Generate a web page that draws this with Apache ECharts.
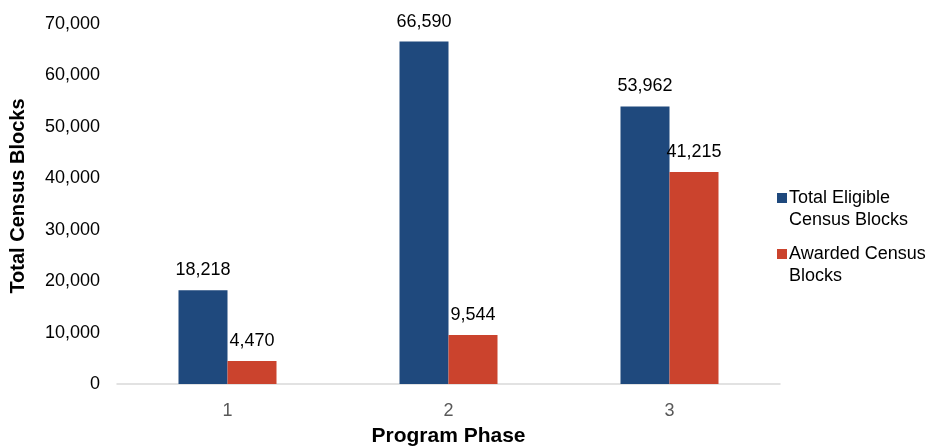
<!DOCTYPE html>
<html>
<head>
<meta charset="utf-8">
<style>
  html, body { margin: 0; padding: 0; background: #fff; }
  #chart { width: 937px; height: 447px; }
</style>
<script src="https://cdn.jsdelivr.net/npm/echarts@6/dist/echarts.min.js"></script>
</head>
<body>
<div id="chart"></div>
<script>
const phases = ['1', '2', '3']
const eligibleBlocks = [18218, 66590, 53962]
const awardedBlocks = [4470, 9544, 41215]
const seriesNames = ['Total Eligible\nCensus Blocks', 'Awarded Census\nBlocks']

const chart = echarts.init(document.getElementById('chart'))
const font = 'Arial, "Liberation Sans", sans-serif'

// square marker sitting on the first line of a two-line legend entry
const legendIcon = 'path://M0 0h10v10h-10z M0 32h0.01v0.01h-0.01z'

const labelStyle = {
  show: true,
  position: 'top',
  distance: 11,
  color: '#000',
  fontSize: 18,
  fontFamily: font,
  formatter: p => p.value.toLocaleString('en-US')
}

chart.setOption({
  animation: false,
  textStyle: { fontFamily: font },
  grid: { left: 117, right: 157, top: 24, bottom: 63, outerBoundsMode: 'none' },
  legend: {
    orient: 'vertical',
    left: 777,
    top: 187,
    padding: 0,
    itemWidth: 10,
    itemHeight: 32,
    itemGap: 12,
    itemStyle: { borderWidth: 0 },
    icon: legendIcon,
    textStyle: { fontSize: 18, color: '#000', fontFamily: font, lineHeight: 22, padding: [0, 0, 0, -3] },
    data: seriesNames
  },
  xAxis: {
    type: 'category',
    data: phases,
    name: 'Program Phase',
    nameLocation: 'middle',
    nameGap: 42,
    nameTextStyle: { fontSize: 21, fontWeight: 'bold', color: '#000', fontFamily: font },
    axisLine: { lineStyle: { color: '#d9d9d9', width: 1.5 } },
    axisTick: { show: false },
    axisLabel: { fontSize: 18, color: '#595959', margin: 18 }
  },
  yAxis: {
    type: 'value',
    min: 0,
    max: 70000,
    interval: 10000,
    name: 'Total Census Blocks',
    nameLocation: 'middle',
    nameGap: 89,
    nameTextStyle: { fontSize: 20, fontWeight: 'bold', color: '#000', fontFamily: font, padding: [0, 0, 0, 16] },
    splitLine: { show: false },
    axisLine: { show: false },
    axisTick: { show: false },
    axisLabel: {
      fontSize: 18,
      color: '#000',
      margin: 17,
      formatter: v => v.toLocaleString('en-US')
    }
  },
  series: [
    {
      name: seriesNames[0],
      type: 'bar',
      data: eligibleBlocks,
      barWidth: 49,
      barGap: '0%',
      itemStyle: { color: '#1f497d' },
      label: labelStyle
    },
    {
      name: seriesNames[1],
      type: 'bar',
      data: awardedBlocks,
      barWidth: 49,
      itemStyle: { color: '#cb432d' },
      label: labelStyle
    }
  ]
})

window.addEventListener('resize', () => chart.resize())
</script>
</body>
</html>
